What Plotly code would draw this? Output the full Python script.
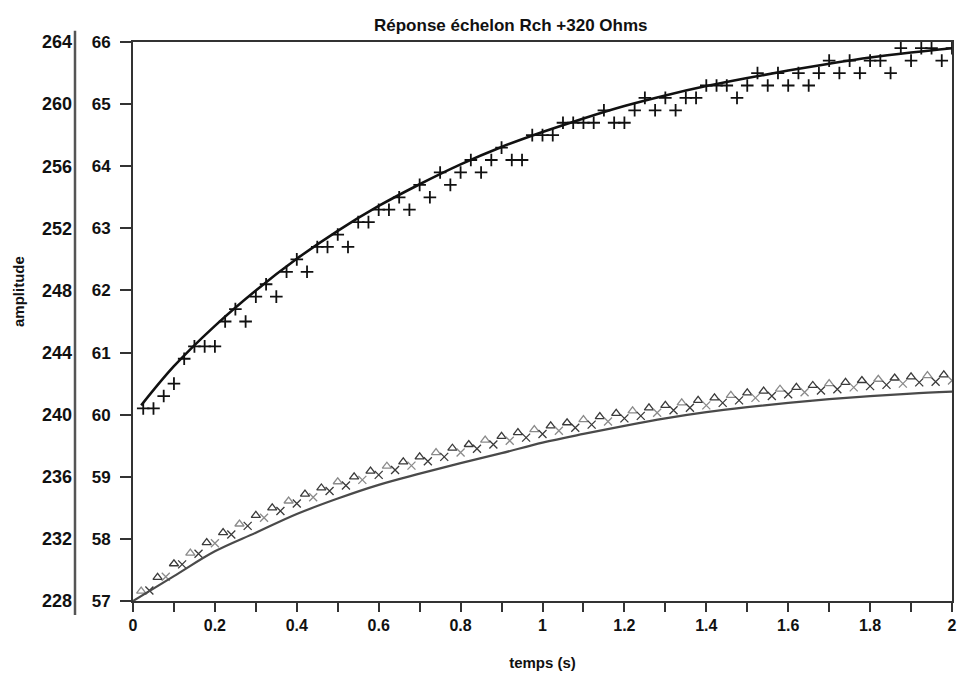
import plotly.graph_objects as go

# ---------------- data ----------------
# upper fitted curve (black)
fit_hi_x = [0.02, 0.1, 0.2, 0.3, 0.4, 0.5, 0.6, 0.7, 0.8, 0.9, 1.0, 1.1, 1.2,
            1.3, 1.4, 1.5, 1.6, 1.7, 1.8, 1.9, 2.0]
fit_hi_y = [60.15, 60.78, 61.43, 62.00, 62.51, 62.96, 63.36, 63.71, 64.03, 64.31,
            64.55, 64.77, 64.97, 65.14, 65.29, 65.42, 65.54, 65.65, 65.75, 65.83, 65.90]

# upper measured points (+ markers)
meas_hi_x = [0.025, 0.05, 0.075, 0.1, 0.125, 0.15, 0.175, 0.2, 0.225, 0.25,
             0.275, 0.3, 0.325, 0.35, 0.375, 0.4, 0.425, 0.45, 0.475, 0.5,
             0.525, 0.55, 0.575, 0.6, 0.625, 0.65, 0.675, 0.7, 0.725, 0.75,
             0.775, 0.8, 0.825, 0.85, 0.875, 0.9, 0.925, 0.95, 0.975, 1.0,
             1.025, 1.05, 1.075, 1.1, 1.125, 1.15, 1.175, 1.2, 1.225, 1.25,
             1.275, 1.3, 1.325, 1.35, 1.375, 1.4, 1.425, 1.45, 1.475, 1.5,
             1.525, 1.55, 1.575, 1.6, 1.625, 1.65, 1.675, 1.7, 1.725, 1.75,
             1.775, 1.8, 1.825, 1.85, 1.875, 1.9, 1.925, 1.95, 1.975, 2.0]
meas_hi_y = [60.1, 60.1, 60.3, 60.5, 60.9, 61.1, 61.1, 61.1, 61.5, 61.7,
             61.5, 61.9, 62.1, 61.9, 62.3, 62.5, 62.3, 62.7, 62.7, 62.9,
             62.7, 63.1, 63.1, 63.3, 63.3, 63.5, 63.3, 63.7, 63.5, 63.9,
             63.7, 63.9, 64.1, 63.9, 64.1, 64.3, 64.1, 64.1, 64.5, 64.5,
             64.5, 64.7, 64.7, 64.7, 64.7, 64.9, 64.7, 64.7, 64.9, 65.1,
             64.9, 65.1, 64.9, 65.1, 65.1, 65.3, 65.3, 65.3, 65.1, 65.3,
             65.5, 65.3, 65.5, 65.3, 65.5, 65.3, 65.5, 65.7, 65.5, 65.7,
             65.5, 65.7, 65.7, 65.5, 65.9, 65.7, 65.9, 65.9, 65.7, 65.9]

# lower fitted curve (grey)
fit_lo_x = [0.0, 0.1, 0.2, 0.3, 0.4, 0.5, 0.6, 0.7, 0.8, 0.9, 1.0, 1.1, 1.2,
            1.3, 1.4, 1.5, 1.6, 1.7, 1.8, 1.9, 2.0]
fit_lo_y = [57.0, 57.4, 57.8, 58.1, 58.4, 58.65, 58.87, 59.05, 59.22, 59.38,
            59.55, 59.69, 59.82, 59.94, 60.04, 60.12, 60.19, 60.25, 60.30, 60.34, 60.37]

# lower measured points (dense hatched band)
meas_lo_x = [0.02, 0.04, 0.06, 0.08, 0.10, 0.12, 0.14, 0.16, 0.18, 0.20,
             0.22, 0.24, 0.26, 0.28, 0.30, 0.32, 0.34, 0.36, 0.38, 0.40,
             0.42, 0.44, 0.46, 0.48, 0.50, 0.52, 0.54, 0.56, 0.58, 0.60,
             0.62, 0.64, 0.66, 0.68, 0.70, 0.72, 0.74, 0.76, 0.78, 0.80,
             0.82, 0.84, 0.86, 0.88, 0.90, 0.92, 0.94, 0.96, 0.98, 1.00,
             1.02, 1.04, 1.06, 1.08, 1.10, 1.12, 1.14, 1.16, 1.18, 1.20,
             1.22, 1.24, 1.26, 1.28, 1.30, 1.32, 1.34, 1.36, 1.38, 1.40,
             1.42, 1.44, 1.46, 1.48, 1.50, 1.52, 1.54, 1.56, 1.58, 1.60,
             1.62, 1.64, 1.66, 1.68, 1.70, 1.72, 1.74, 1.76, 1.78, 1.80,
             1.82, 1.84, 1.86, 1.88, 1.90, 1.92, 1.94, 1.96, 1.98, 2.00]
meas_lo_y = [57.16, 57.17, 57.38, 57.39, 57.60, 57.59, 57.77, 57.76, 57.94, 57.93,
             58.10, 58.07, 58.24, 58.21, 58.38, 58.34, 58.50, 58.45, 58.61, 58.57,
             58.72, 58.67, 58.82, 58.77, 58.92, 58.86, 59.00, 58.95, 59.09, 59.03,
             59.17, 59.11, 59.24, 59.18, 59.32, 59.25, 59.39, 59.32, 59.46, 59.39,
             59.52, 59.45, 59.59, 59.52, 59.65, 59.58, 59.71, 59.63, 59.76, 59.69,
             59.82, 59.74, 59.87, 59.79, 59.92, 59.84, 59.97, 59.89, 60.02, 59.94,
             60.06, 59.98, 60.11, 60.03, 60.15, 60.07, 60.19, 60.11, 60.23, 60.15,
             60.27, 60.19, 60.31, 60.23, 60.35, 60.27, 60.38, 60.30, 60.41, 60.33,
             60.44, 60.36, 60.47, 60.39, 60.50, 60.41, 60.52, 60.44, 60.55, 60.46,
             60.57, 60.48, 60.59, 60.50, 60.61, 60.52, 60.63, 60.53, 60.64, 60.55]

x_ticks = [0, 0.2, 0.4, 0.6, 0.8, 1.0, 1.2, 1.4, 1.6, 1.8, 2.0]
x_tick_text = ["0", "0.2", "0.4", "0.6", "0.8", "1", "1.2", "1.4", "1.6", "1.8", "2"]
y_ticks = [57, 58, 59, 60, 61, 62, 63, 64, 65, 66]
y2_ticks = [228, 232, 236, 240, 244, 248, 252, 256, 260, 264]

title_text = "Réponse échelon Rch +320 Ohms"
x_title = "temps (s)"
y_title = "amplitude"

# ---------------- figure ----------------
FONT = "Liberation Sans, Arial, Helvetica, sans-serif"
AX = "#333333"

fig = go.Figure()

lo_symbols = ["triangle-up-open" if i % 2 == 0 else "x-thin-open" for i in range(len(meas_lo_x))]
lo_colors = ["#3a3a3a" if i % 3 else "#8a8a8a" for i in range(len(meas_lo_x))]

fig.add_trace(go.Scatter(
    x=meas_lo_x, y=meas_lo_y, mode="markers",
    marker=dict(symbol=lo_symbols, size=8, color=lo_colors,
                line=dict(width=1.3, color=lo_colors)),
    showlegend=False, hoverinfo="skip"))

fig.add_trace(go.Scatter(
    x=fit_lo_x, y=fit_lo_y, mode="lines",
    line=dict(color="#4a4a4a", width=2.2, shape="spline"),
    showlegend=False, hoverinfo="skip"))

fig.add_trace(go.Scatter(
    x=meas_hi_x, y=meas_hi_y, mode="markers",
    marker=dict(symbol="cross-thin-open", size=9, color="#111111",
                line=dict(width=1.8, color="#111111")),
    showlegend=False, hoverinfo="skip"))

fig.add_trace(go.Scatter(
    x=fit_hi_x, y=fit_hi_y, mode="lines",
    line=dict(color="#111111", width=2.6, shape="spline"),
    showlegend=False, hoverinfo="skip"))

# invisible trace to activate the secondary (outer) scale
fig.add_trace(go.Scatter(x=[0], y=[228], yaxis="y2", mode="markers",
                         marker=dict(opacity=0), showlegend=False, hoverinfo="skip"))

ML, MR, MT, MB = 60, 7, 42, 74
W, H = 959, 675
PW = W - ML - MR
PH = H - MT - MB
x_dom0 = (133 - ML) / PW

fig.update_layout(
    width=W, height=H,
    margin=dict(l=ML, r=MR, t=MT, b=MB, autoexpand=False),
    paper_bgcolor="white", plot_bgcolor="white",
    font=dict(family=FONT, color="#111111"),
    xaxis=dict(
        domain=[x_dom0, 1], range=[0, 2], automargin=False,
        tickvals=x_ticks, ticktext=x_tick_text, ticklabeloverflow="allow",
        ticks="outside", ticklen=9, tickwidth=1.5, tickcolor=AX,
        minor=dict(dtick=0.1, ticks="outside", ticklen=9, tickwidth=1.5, tickcolor=AX),
        showline=True, linecolor=AX, linewidth=2, mirror=True,
        showgrid=False, zeroline=False,
        tickfont=dict(size=16, family=FONT, weight="bold"),
        title=dict(text=x_title, font=dict(size=15, weight="bold"), standoff=24),
    ),
    yaxis=dict(
        range=[57, 66], tickvals=y_ticks, automargin=False,
        ticks="outside", ticklen=11, tickwidth=1.5, tickcolor=AX,
        showline=True, linecolor=AX, linewidth=2, mirror=True,
        showgrid=False, zeroline=False,
        tickfont=dict(size=17, family=FONT, weight="bold"),
        ticklabelstandoff=6,
    ),
    yaxis2=dict(
        range=[228, 264], tickvals=y2_ticks, overlaying="y", anchor="free",
        position=(75 - ML) / PW, side="left", automargin=False,
        showline=False, ticks="", showgrid=False, zeroline=False,
        tickfont=dict(size=18, family=FONT, weight="bold"),
        ticklabelstandoff=3, ticklabeloverflow="allow",
    ),
    annotations=[
        dict(text=title_text, xref="paper", yref="paper",
             x=(511 - ML) / PW, y=1, yshift=5, xanchor="center", yanchor="bottom",
             showarrow=False, font=dict(size=17, family=FONT, weight="bold")),
        dict(text=y_title, xref="paper", yref="paper",
             x=(18 - ML) / PW, y=(MT + PH - 292) / PH,
             xanchor="center", yanchor="middle", textangle=-90,
             showarrow=False, font=dict(size=15, family=FONT, weight="bold")),
    ],
    shapes=[
        dict(type="line", xref="paper", yref="paper",
             x0=(75 - ML) / PW, x1=(75 - ML) / PW, y0=-0.025, y1=1.02,
             line=dict(color="#555555", width=2.5)),
    ],
)

fig.write_html(
    "out.html",
    config={"displayModeBar": False},
    post_script="document.body.style.margin='0';document.body.style.overflow='hidden';",
)
